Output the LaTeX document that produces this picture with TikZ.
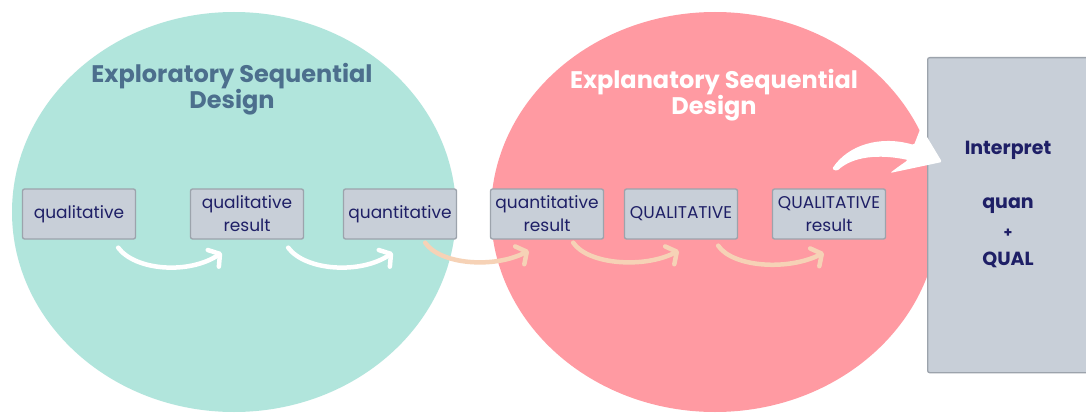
\documentclass[tikz,border=0pt]{standalone}
\usepackage{fontspec}
\setmainfont{Poppins}
\usetikzlibrary{arrows.meta}
\definecolor{tealc}{HTML}{B1E5DC}
\definecolor{redc}{HTML}{FF9AA2}
\definecolor{boxc}{HTML}{C8CFD8}
\definecolor{boxb}{HTML}{9CA3AC}
\definecolor{navy}{HTML}{1E1F66}
\definecolor{titlec}{HTML}{4C6F8D}
\definecolor{peach}{HTML}{F6D2B6}
\tikzset{
  stepbox/.style={draw=boxb, line width=1.3pt, fill=boxc, rounded corners=2pt,
    minimum width=113pt, minimum height=50pt, inner sep=0pt, align=center,
    text=navy, font=\fontsize{17}{23}\selectfont},
  ttl/.style={align=center, font=\bfseries\fontsize{24}{23.5}\selectfont},
  itxt/.style={text=navy, font=\bfseries\fontsize{19}{20}\selectfont},
  swoop/.style={line width=4.5pt, line cap=round,
    -{Straight Barb[length=8pt,width=20pt,line cap=round,line join=round]}},
  warrow/.style={swoop, draw=white},
  parrow/.style={swoop, draw=peach},
}
\begin{document}
\begin{tikzpicture}[x=1pt,y=-1pt]
\useasboundingbox (0,0) rectangle (1086,412);
\fill[white] (0,0) rectangle (1086,412);
% circles
\fill[tealc] (234,212) ellipse [x radius=222, y radius=200];
\fill[redc] (715,212) ellipse [x radius=224, y radius=200];
% titles
\node[ttl, text=titlec] (t1) at (232,89) {Exploratory Sequential\\Design};
\node[ttl, text=white] (t2) at (714,95) {Explanatory Sequential\\Design};
% boxes
\node[stepbox] (b1) at (79,214) {qualitative};
\node[stepbox] (b2) at (247,214) {qualitative\\result};
\node[stepbox] (b3) at (400,214) {quantitative};
\node[stepbox] (b4) at (547,214) {quantitative\\result};
\node[stepbox] (b5) at (681,214) {QUALITATIVE};
\node[stepbox] (b6) at (829,214) {QUALITATIVE\\result};
% arrows
\draw[warrow] ([shift={(-18,8)}]b1.south east) .. controls +(17,23) and +(-33,22) .. ([shift={(32,13)}]b2.south west);
\draw[warrow] ([shift={(-16,8)}]b2.south east) .. controls +(17,23) and +(-33,22) .. ([shift={(50,13)}]b3.south west);
\draw[parrow] ([shift={(-32,3)}]b3.south east) .. controls +(15,22) and +(-35,18) .. ([shift={(39,11)}]b4.south west);
\draw[parrow] ([shift={(-31,3)}]b4.south east) .. controls +(15,22) and +(-35,18) .. ([shift={(55,11)}]b5.south west);
\draw[parrow] ([shift={(-20,6)}]b5.south east) .. controls +(15,22) and +(-35,18) .. ([shift={(52,13)}]b6.south west);
% interpret box
\node[draw=boxb, line width=1.3pt, fill=boxc, rounded corners=2pt, anchor=north west,
  minimum width=170pt, minimum height=315pt, inner sep=0pt] (ib) at (927,57) {};
\node[itxt] (it) at (1008,150) {Interpret};
\node[itxt] (iq) at (1008,206) {quan};
\node[itxt, font=\bfseries\fontsize{14}{20}\selectfont] (ip) at (1008,233) {+};
\node[itxt] (iu) at (1008,260) {QUAL};
% big arrow
\fill[white, rounded corners=1.5pt] (832,169) .. controls (848,145) and (880,135) .. (914,145)
  -- (921,127) -- (942,162) -- (890,173) .. controls (898,167) .. (908,160)
  .. controls (880,154) and (853,156) .. (837,171) -- cycle;
\end{tikzpicture}
\end{document}
